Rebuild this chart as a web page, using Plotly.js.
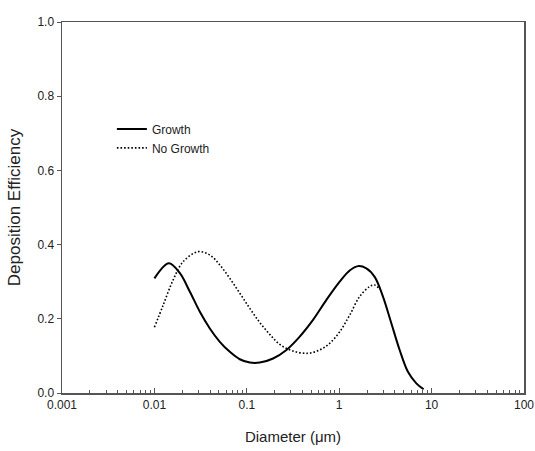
<!DOCTYPE html>
<html><head><meta charset="utf-8">
<script src="https://cdn.plot.ly/plotly-3.0.1.min.js"></script>
<style>html,body{margin:0;padding:0;background:#fff}#chart{width:535px;height:451px}</style>
</head><body><div id="chart"></div>
<script>
const growthDiameter = [0.01, 0.01435, 0.01887, 0.0242, 0.03104, 0.03981, 0.05104, 0.06549, 0.084, 0.1078, 0.1382, 0.1924, 0.2687, 0.3741, 0.5209, 0.7272, 1.0125, 1.299, 1.597, 1.968, 2.42, 2.976, 3.667, 4.51, 5.543, 6.833, 8.196];
const growthEff = [0.309, 0.350, 0.323, 0.273, 0.219, 0.174, 0.138, 0.111, 0.091, 0.082, 0.082, 0.093, 0.116, 0.152, 0.197, 0.251, 0.300, 0.330, 0.342, 0.336, 0.313, 0.260, 0.188, 0.116, 0.057, 0.026, 0.010];
const noGrowthDiameter = [0.01, 0.01245, 0.01596, 0.02048, 0.02975, 0.03981, 0.05104, 0.06549, 0.084, 0.1078, 0.1382, 0.1772, 0.2274, 0.3166, 0.46, 0.6155, 0.7896, 1.0125, 1.299, 1.666, 2.137, 2.42, 2.694];
const noGrowthEff = [0.177, 0.237, 0.305, 0.354, 0.381, 0.372, 0.345, 0.309, 0.269, 0.228, 0.190, 0.158, 0.131, 0.113, 0.107, 0.116, 0.134, 0.165, 0.210, 0.260, 0.287, 0.291, 0.282];
const xTickVals = [0.001, 0.01, 0.1, 1, 10, 100];
const xTickText = ["0.001", "0.01", "0.1", "1", "10", "100"];
const yTickVals = [0, 0.2, 0.4, 0.6, 0.8, 1.0];

const font = "Liberation Sans, Arial, sans-serif";
const traces = [
  {x: growthDiameter, y: growthEff, name: "Growth", mode: "lines", line: {color: "#000", width: 2, shape: "spline", smoothing: 1}},
  {x: noGrowthDiameter, y: noGrowthEff, name: "No Growth", mode: "lines", line: {color: "#000", width: 1.6, dash: "1.6px,2px", shape: "spline", smoothing: 1}}
];
const layout = {
  width: 535, height: 451,
  margin: {l: 62, r: 11, t: 22, b: 58},
  paper_bgcolor: "#fff", plot_bgcolor: "#fff",
  font: {family: font, size: 12, color: "#222"},
  showlegend: true,
  legend: {x: 0.108, y: 0.751, xanchor: "left", yanchor: "top", bgcolor: "rgba(0,0,0,0)", font: {size: 12, color: "#222"}, tracegroupgap: 0},
  xaxis: {
    type: "log", range: [-3, 2],
    tickvals: xTickVals, ticktext: xTickText,
    ticks: "inside", ticklen: 5, tickwidth: 1, tickcolor: "#555",
    minor: {ticks: "inside", ticklen: 3, dtick: "D1", tickcolor: "#555", showgrid: false},
    showline: true, linecolor: "#555", linewidth: 1.5, mirror: true,
    showgrid: false, zeroline: false,
    tickfont: {size: 12, color: "#222"},
    title: {text: "Diameter (μm)", font: {size: 15, color: "#222"}, standoff: 20}
  },
  yaxis: {
    range: [0, 1], tickvals: yTickVals, tickformat: ".1f",
    ticks: "outside", ticklen: 4, tickwidth: 1, tickcolor: "#555",
    showline: true, linecolor: "#555", linewidth: 1.5, mirror: true,
    showgrid: false, zeroline: false,
    tickfont: {size: 12, color: "#222"},
    title: {text: "Deposition Efficiency", font: {size: 17, color: "#222"}, standoff: 12}
  }
};
Plotly.newPlot("chart", traces, layout, {displayModeBar: false, staticPlot: true});
</script></body></html>
